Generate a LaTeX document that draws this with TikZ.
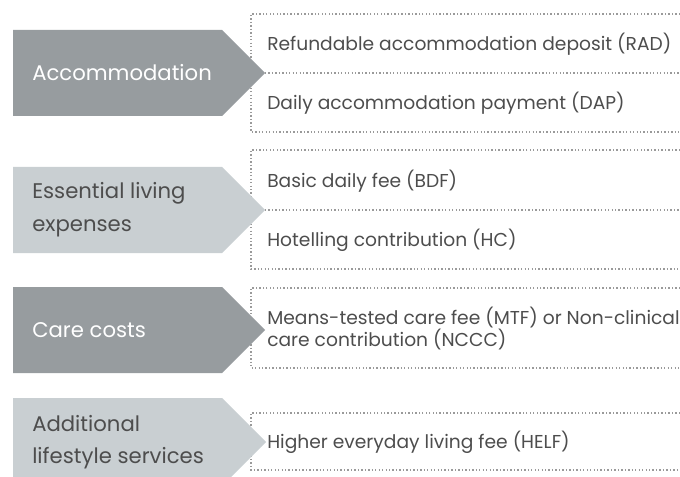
\documentclass[tikz,border=0pt]{standalone}
\usepackage{fontspec}
\setmainfont{Poppins}
\definecolor{catdark}{HTML}{979C9F}
\definecolor{catlight}{HTML}{C9CFD2}
\definecolor{inktext}{HTML}{4D4D4D}
\definecolor{dotline}{HTML}{9A9A9A}
\tikzset{dotbox/.style={draw=dotline, line width=1pt, dash pattern=on 1pt off 1.6pt},
  cat/.style={anchor=west, align=left, inner sep=0pt,
      font=\fontsize{15.9}{24.5}\selectfont},
  item/.style={anchor=west, align=left, inner sep=0pt, text=inktext,
      font=\fontsize{14}{16.5}\selectfont}}
% arrow shaped category box: top, bottom, colour
\newcommand{\catarrow}[3]{%
  \fill[#3] (13,#1) -- (222,#1) -- ({222+(#2-#1)/2},{(#1+#2)/2}) -- (222,#2) -- (13,#2) -- cycle;}

\begin{document}
\begin{tikzpicture}[x=0.75pt, y=-0.75pt]
    \useasboundingbox (0,0) rectangle (680,477);
    % dotted boxes on the right
    \draw[dotbox] (680,14) -- (251,14) -- (251,132) -- (680,132);
    \draw[dotbox] (251,73) -- (680,73);
    \draw[dotbox] (680,150) -- (251,150) -- (251,269) -- (680,269);
    \draw[dotbox] (251,210) -- (680,210);
    \draw[dotbox] (680,288) -- (251,288) -- (251,368) -- (680,368);
    \draw[dotbox] (680,413) -- (251,413) -- (251,470) -- (680,470);
    % arrows
    \catarrow{30}{116}{catdark}
    \catarrow{167}{253}{catlight}
    \catarrow{287}{373}{catdark}
    \catarrow{398}{486}{catlight}
    % categories
    \node[cat, text=white] (accom) at (32,73) {Accommodation};
    \node[cat, text=inktext] (living) at (32,210) {Essential living\\expenses};
    \node[cat, text=white] (care) at (32,330) {Care costs};
    \node[cat, text=inktext] (lifestyle) at (32,442) {Additional\\lifestyle services};
    % items
    \node[item] (rad) at (267,44) {Refundable accommodation deposit (RAD)};
    \node[item] (dap) at (267,103) {Daily accommodation payment (DAP)};
    \node[item] (bdf) at (267,181) {Basic daily fee (BDF)};
    \node[item] (hc) at (267,240) {Hotelling contribution (HC)};
    \node[item] (mtf) at (267,329) {Means-tested care fee (MTF) or Non-clinical\\care contribution (NCCC)};
    \node[item] (helf) at (267,442) {Higher everyday living fee (HELF)};
\end{tikzpicture}
\end{document}
